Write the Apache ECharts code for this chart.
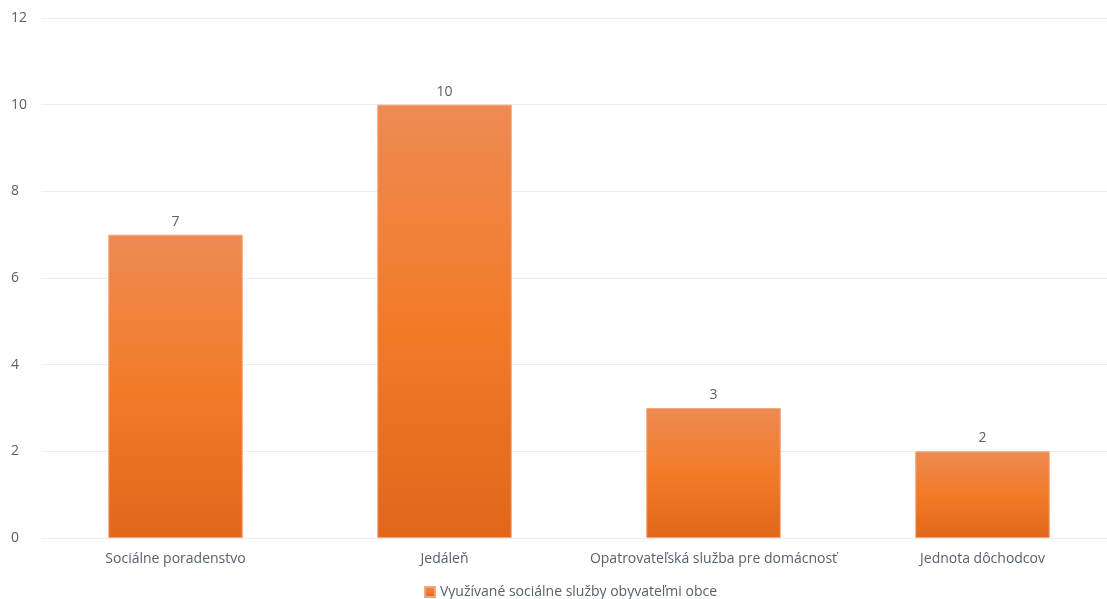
<!DOCTYPE html>
<html><head><meta charset="utf-8">
<script src="https://cdn.jsdelivr.net/npm/echarts@6/dist/echarts.min.js"></script>
<style>html,body{margin:0;padding:0;background:#fff;overflow:hidden}#c{width:1120px;height:599px}</style>
</head><body><div id="c"></div>
<script>
const categories = ["Sociálne poradenstvo", "Jedáleň", "Opatrovateľská služba pre domácnosť", "Jednota dôchodcov"];
const seriesName = "Využívané sociálne služby obyvateľmi obce";
const values = [7, 10, 3, 2];
const yTicks = [0, 2, 4, 6, 8, 10, 12];

const chart = echarts.init(document.getElementById('c'));
const txt = '#58606e';
chart.setOption({
  animation: false,
  textStyle: { fontFamily: 'Open Sans, sans-serif' },
  grid: { left: 41, width: 1076, top: 18, bottom: 61, containLabel: false },
  legend: {
    top: 580, left: 419, itemWidth: 10, itemHeight: 10, icon: 'rect', itemGap: 5,
    textStyle: { color: txt, fontSize: 14, fontFamily: 'Open Sans, sans-serif' },
    data: [seriesName]
  },
  xAxis: {
    type: 'category', data: categories,
    axisLine: { show: false }, axisTick: { show: false },
    axisLabel: { color: txt, fontSize: 14, margin: 14, interval: 0 }
  },
  yAxis: {
    type: 'value', min: yTicks[0], max: yTicks[yTicks.length - 1], interval: 2,
    axisLine: { show: false }, axisTick: { show: false },
    axisLabel: { color: txt, fontSize: 14, margin: 30, align: 'left' },
    splitLine: { lineStyle: { color: '#e9eeee', width: 1 } }
  },
  series: [{
    name: seriesName, type: 'bar', data: values, barWidth: '50%',
    itemStyle: {
      color: new echarts.graphic.LinearGradient(0, 0, 0, 1, [
        { offset: 0, color: '#ee8a53' },
        { offset: 0.5, color: '#f27b28' },
        { offset: 1, color: '#e1661a' }
      ]),
      borderColor: '#f3a77a', borderWidth: 1
    },
    label: { show: true, position: 'top', color: txt, fontSize: 14, distance: 6 }
  }]
});
</script></body></html>
